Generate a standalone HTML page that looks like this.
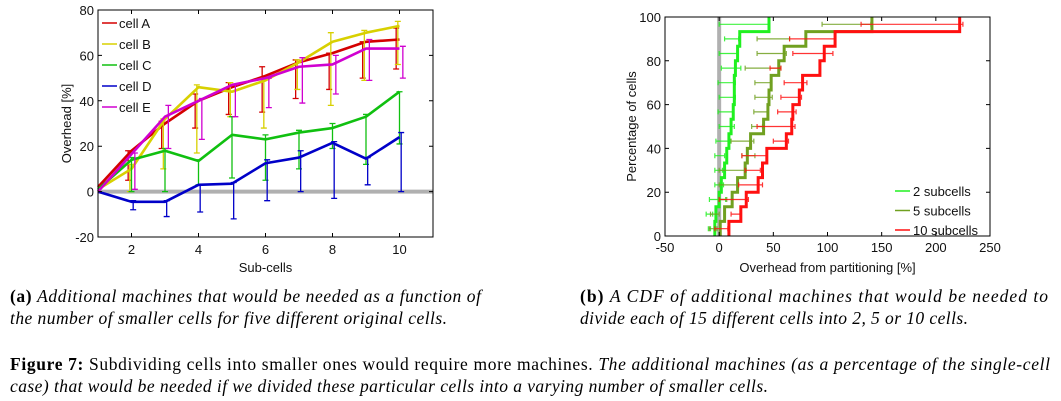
<!DOCTYPE html>
<html><head><meta charset="utf-8"><style>
html,body{margin:0;padding:0;background:#fff;}
svg{display:block;}
.t{font-family:"Liberation Sans",sans-serif;font-size:13px;fill:#111;}
.c{font-family:"Liberation Serif",serif;font-size:17.5px;fill:#000;}
</style></head><body>
<svg id="fig" width="1061" height="401" xmlns="http://www.w3.org/2000/svg">
<g id="left"></g>
<g id="right"></g>
<g>
<text class="c" x="10" y="302" textLength="471" lengthAdjust="spacing"><tspan font-weight="bold">(a)</tspan> <tspan font-style="italic">Additional machines that would be needed as a function of</tspan></text>
<text class="c" x="10" y="324" font-style="italic" textLength="437" lengthAdjust="spacing">the number of smaller cells for five different original cells.</text>
<text class="c" x="580" y="302" textLength="468" lengthAdjust="spacing"><tspan font-weight="bold">(b)</tspan> <tspan font-style="italic">A CDF of additional machines that would be needed to</tspan></text>
<text class="c" x="580" y="324" font-style="italic" textLength="388" lengthAdjust="spacing">divide each of 15 different cells into 2, 5 or 10 cells.</text>
<text class="c" x="10" y="370" textLength="1040" lengthAdjust="spacing"><tspan font-weight="bold">Figure 7:</tspan> Subdividing cells into smaller ones would require more machines. <tspan font-style="italic">The additional machines (as a percentage of the single-cell</tspan></text>
<text class="c" x="10" y="392" font-style="italic" textLength="758" lengthAdjust="spacing">case) that would be needed if we divided these particular cells into a varying number of smaller cells.</text>
</g>
</svg>
<script>
// ---- Left chart data ----
const subcells = [1,2,3,4,5,6,7,8,9,10];
const seriesNames = ["cell A","cell B","cell C","cell D","cell E"];
const cellA = [2,18,30,40,46,51,57,61,66,67];
const cellB = [1,10,32,46,44,49,57,66,70,73];
const cellC = [1,14,18,13.5,25,23,26,28,33,44];
const cellD = [0,-4.5,-4.5,3,3.5,12.5,15,21.5,14.5,24];
const cellE = [0,16.5,33,40,47,50,55,56,63,63];
const cellALo = [null,5,19,28,34,35,41,45,50,54];
const cellAHi = [null,18,31,43,48,55,58,61,66,72];
const cellBLo = [null,0,10,17,33,28,45,38,49,56];
const cellBHi = [null,12,32,47,48,50,58,70,71,75];
const cellCLo = [null,0,0,3,6,5,10,19,12,21];
const cellCHi = [null,15,19,14,33,25,27,30,34,44];
const cellDLo = [null,-8,-11,-9,-12,-4,0,-3,3,0];
const cellDHi = [null,-4,-4,3,4,14,18,22,15,26];
const cellELo = [null,1,19,23,33,37,39,43,49,50];
const cellEHi = [null,17,38,41,47,50,59,60,67,64];
const leftXTicks = [2,4,6,8,10];
const leftYTicks = [-20,0,20,40,60,80];

// ---- Right chart data (15 cells, sorted) ----
const cdfLevels = 15;
const sub2 = [-4,-3,0,2,5,7,9,11,13,14,14,15,17,19,46];
const sub5 = [1,5,12,17,24,26,29,41,45,46,48,55,60,80,141];
const sub10 = [9,20,25,36,40,44,62,67,68,74,77,93,97,107,222];
const sub2Lo = [-10,-12,-9,-4,-4,-4,-3,0,-1,0,-1,2,0,5,0];
const sub2Hi = [-8,-6,6,4,3,5,10,14,13,15,15,20,17,18,46];
const sub5Lo = [-9,-8,0,0,0,21,11,30,32,33,33,24,35,35,95];
const sub5Hi = [-2,0,7,17,25,33,32,40,45,49,48,57,62,65,140];
const sub10Lo = [-4,11,0,18,24,21,50,35,54,57,60,47,68,65,131];
const sub10Hi = [8,20,27,40,38,44,64,70,71,76,81,57,105,107,225];
const rightXTicks = [-50,0,50,100,150,200,250];
const rightYTicks = [0,20,40,60,80,100];

const NS="http://www.w3.org/2000/svg";
function mk(tag,attrs,parent){const e=document.createElementNS(NS,tag);for(const k in attrs)e.setAttribute(k,attrs[k]);parent.appendChild(e);return e;}

// Left axes
const L={x0:98,x1:433,y0:237,y1:10};
const lx=v=>L.x0+(v-1)/(11-1)*(L.x1-L.x0);
const ly=v=>L.y0-(v+20)/100*(L.y0-L.y1);
const gl=document.getElementById('left');
let zl=mk('line',{x1:L.x0,x2:L.x1,y1:ly(0),y2:ly(0),stroke:'#b0b0b0','stroke-width':4},gl);


const colorsL=['#d40000','#d8d000','#10c010','#0000c8','#d000d0'];
const vals=[cellA,cellB,cellC,cellD,cellE];
const los=[cellALo,cellBLo,cellCLo,cellDLo,cellELo];
const his=[cellAHi,cellBHi,cellCHi,cellDHi,cellEHi];
const offs=[-0.1,-0.05,0,0.05,0.1];
vals.forEach((s,i)=>{
  const g=mk('g',{},gl);
  
  
  for(let j=0;j<subcells.length;j++){
    if(los[i][j]==null)continue;
    const x=lx(subcells[j]+offs[i]);
    const eb=mk('path',{d:`M${x},${ly(los[i][j])}V${ly(his[i][j])}M${x-3},${ly(los[i][j])}h6M${x-3},${ly(his[i][j])}h6`,stroke:colorsL[i],'stroke-width':1.3,fill:'none'},g);
    
    
  }
  const p=mk('polyline',{points:s.map((v,j)=>lx(subcells[j])+','+ly(v)).join(' '),fill:'none',stroke:colorsL[i],'stroke-width':2.6,'stroke-linejoin':'round'},g);
  
  
});
let fr=mk('rect',{x:L.x0,y:L.y1,width:L.x1-L.x0,height:L.y0-L.y1,fill:'none',stroke:'#000','stroke-width':1},gl);


leftXTicks.forEach(v=>{
  mk('path',{d:`M${lx(v)},${L.y0}v-4M${lx(v)},${L.y1}v4`,stroke:'#000'},gl);
  const t=mk('text',{x:lx(v),y:L.y0+17,'text-anchor':'middle',class:'t'},gl);t.textContent=v;
  
  
});
leftYTicks.forEach(v=>{
  mk('path',{d:`M${L.x0},${ly(v)}h4M${L.x1},${ly(v)}h-4`,stroke:'#000'},gl);
  const t=mk('text',{x:L.x0-4,y:ly(v)+5,'text-anchor':'end',class:'t'},gl);t.textContent=v;
  
  
});
let xt=mk('text',{x:(L.x0+L.x1)/2,y:272,'text-anchor':'middle',class:'t'},gl);xt.textContent='Sub-cells';


let yt=mk('text',{x:0,y:0,'text-anchor':'middle',class:'t',transform:`translate(71,${(L.y0+L.y1)/2}) rotate(-90)`},gl);yt.textContent='Overhead [%]';


seriesNames.forEach((n,i)=>{
  const g=mk('g',{},gl);
  
  
  const y=23+i*21;
  mk('line',{x1:102,x2:117,y1:y,y2:y,stroke:colorsL[i],'stroke-width':1.5},g);
  const t=mk('text',{x:119,y:y+5,class:'t'},g);t.textContent=n;
});

// Right axes
const R={x0:665,x1:990,y0:236,y1:17};
const rx=v=>R.x0+(v+50)/300*(R.x1-R.x0);
const ry=v=>R.y0-v/100*(R.y0-R.y1);
const gr=document.getElementById('right');
let zr=mk('line',{x1:rx(0),x2:rx(0),y1:R.y0,y2:R.y1,stroke:'#b0b0b0','stroke-width':4},gr);


const colorsR=['#20f020','#70a020','#ff1010'];
const cdfNames=['2 subcells','5 subcells','10 subcells'];
[sub2,sub5,sub10].forEach((s,i)=>{
  const lo=[sub2Lo,sub5Lo,sub10Lo][i], hi=[sub2Hi,sub5Hi,sub10Hi][i];
  const g=mk('g',{},gr);
  
  
  for(let k=0;k<cdfLevels;k++){
    const y=ry((k+0.5)/cdfLevels*100);
    const e=mk('path',{d:`M${rx(lo[k])},${y}H${rx(hi[k])}M${rx(lo[k])},${y-2.5}v5M${rx(hi[k])},${y-2.5}v5`,stroke:colorsR[i],'stroke-width':1.2,fill:'none',opacity:0.85},g);
    
    
  }
  let d=`M${rx(s[0])},${ry(0)}`;
  for(let k=0;k<cdfLevels;k++){
    d+=`H${rx(s[k])}V${ry((k+1)/cdfLevels*100)}`;
  }
  const p=mk('path',{d:d,fill:'none',stroke:colorsR[i],'stroke-width':3},g);
  
  
});
let fr2=mk('rect',{x:R.x0,y:R.y1,width:R.x1-R.x0,height:R.y0-R.y1,fill:'none',stroke:'#000','stroke-width':1},gr);


rightXTicks.forEach(v=>{
  mk('path',{d:`M${rx(v)},${R.y0}v-4M${rx(v)},${R.y1}v4`,stroke:'#000'},gr);
  const t=mk('text',{x:rx(v),y:R.y0+16,'text-anchor':'middle',class:'t'},gr);t.textContent=v;
  
  
});
rightYTicks.forEach(v=>{
  mk('path',{d:`M${R.x0},${ry(v)}h4M${R.x1},${ry(v)}h-4`,stroke:'#000'},gr);
  const t=mk('text',{x:R.x0-4,y:ry(v)+5,'text-anchor':'end',class:'t'},gr);t.textContent=v;
  
  
});
let xt2=mk('text',{x:(R.x0+R.x1)/2,y:272,'text-anchor':'middle',class:'t'},gr);xt2.textContent='Overhead from partitioning [%]';


let yt2=mk('text',{x:0,y:0,'text-anchor':'middle',class:'t',transform:`translate(636,${(R.y0+R.y1)/2}) rotate(-90)`},gr);yt2.textContent='Percentage of cells';


cdfNames.forEach((n,i)=>{
  const g=mk('g',{},gr);
  
  
  const y=191+i*19.5;
  mk('line',{x1:895,x2:910,y1:y,y2:y,stroke:colorsR[i],'stroke-width':1.5},g);
  const t=mk('text',{x:913,y:y+5,class:'t'},g);t.textContent=n;
});
</script>
</body></html>
